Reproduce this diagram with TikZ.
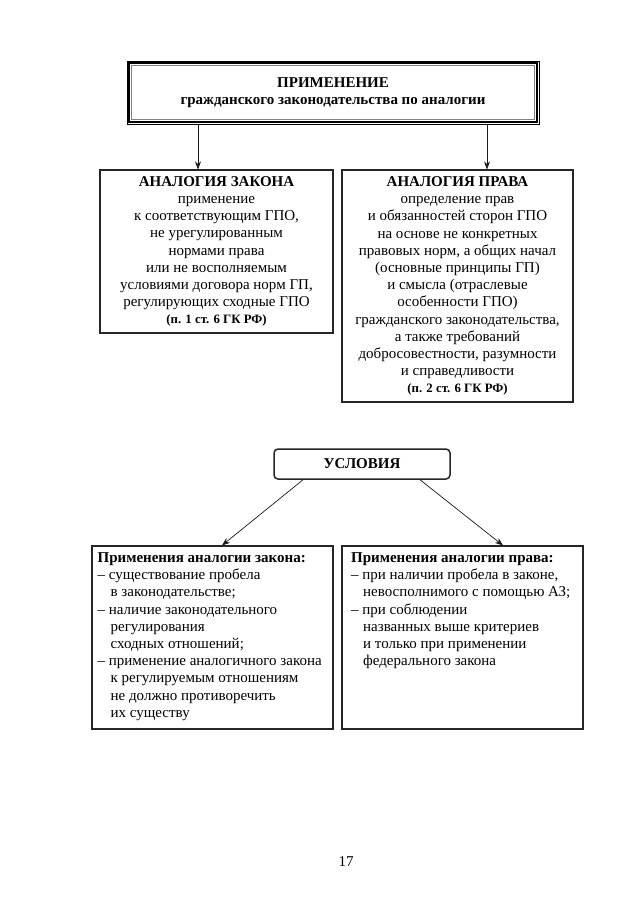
\documentclass[tikz,border=0pt]{standalone}
\usepackage{fontspec}
\setmainfont{Liberation Serif}
\usetikzlibrary{arrows.meta,calc}
\begin{document}
\begin{tikzpicture}[x=1pt,y=-1pt,
  every node/.style={font=\fontsize{15}{17.2}\selectfont, inner sep=0pt},
  box/.style={draw=black!85, line width=1.1pt},
  conn/.style={-{Stealth[length=8pt,width=6pt]}, line width=0.7pt, draw=black!90}]
\useasboundingbox[fill=white] (0,0) rectangle (638,903);

% top box
\node[draw=black, line width=0.8pt, minimum width=412pt, minimum height=63pt, align=center,
      font=\bfseries\fontsize{15}{17.5}\selectfont] (top) at (333,92.5)
  {ПРИМЕНЕНИЕ\\гражданского законодательства по аналогии};
\draw[line width=2pt] ([shift={(2.8,2.8)}]top.north west) rectangle ([shift={(-2.8,-2.8)}]top.south east);
\draw[gray, line width=1.2pt] ([shift={(5,5)}]top.north west) rectangle ([shift={(-5,-5)}]top.south east);

% analogy boxes
\node[box, minimum width=233pt, minimum height=163pt, align=center] (law) at (216.5,251.5)
  {\textbf{АНАЛОГИЯ ЗАКОНА}\\применение\\к соответствующим ГПО,\\не урегулированным\\нормами права\\или не восполняемым\\условиями договора норм ГП,\\регулирующих сходные ГПО\\{\bfseries\fontsize{12.8}{17.2}\selectfont (п. 1 ст. 6 ГК РФ)}};
\node[box, minimum width=231pt, minimum height=232pt, align=center] (rights) at (457.5,286)
  {\textbf{АНАЛОГИЯ ПРАВА}\\определение прав\\и обязанностей сторон ГПО\\на основе не конкретных\\правовых норм, а общих начал\\(основные принципы ГП)\\и смысла (отраслевые\\особенности ГПО)\\гражданского законодательства,\\а также требований\\добросовестности, разумности\\и справедливости\\{\bfseries\fontsize{12.8}{17.2}\selectfont (п. 2 ст. 6 ГК РФ)}};

\coordinate (lawin) at ([xshift=-18.5pt]law.north);
\coordinate (rightsin) at ([xshift=29.5pt]rights.north);
\draw[conn] (lawin |- top.south) -- (lawin);
\draw[conn] (rightsin |- top.south) -- (rightsin);

% conditions
\node[draw=black!85, line width=1.5pt, rounded corners=4pt, minimum width=176pt, minimum height=30pt,
      font=\bfseries\fontsize{15}{17.2}\selectfont] (cond) at (362,464) {УСЛОВИЯ};

\node[box, minimum width=241pt, minimum height=183pt] (bl) at (212.5,637.5) {};
\node[box, minimum width=241pt, minimum height=183pt] (br) at (462.5,637.5) {};

\node[anchor=north west, align=left] (bltext) at ([shift={(6,7)}]bl.north west)
  {\textbf{Применения аналогии закона:}\\
   – существование пробела\\
   \hspace*{13pt}в законодательстве;\\
   – наличие законодательного\\
   \hspace*{13pt}регулирования\\
   \hspace*{13pt}сходных отношений;\\
   – применение аналогичного закона\\
   \hspace*{13pt}к регулируемым отношениям\\
   \hspace*{13pt}не должно противоречить\\
   \hspace*{13pt}их существу};
\node[anchor=north west, align=left] (brtext) at ([shift={(9.5,7)}]br.north west)
  {\textbf{Применения аналогии права:}\\
   – при наличии пробела в законе,\\
   \hspace*{12pt}невосполнимого с помощью АЗ;\\
   – при соблюдении\\
   \hspace*{12pt}названных выше критериев\\
   \hspace*{12pt}и только при применении\\
   \hspace*{12pt}федерального закона};

\coordinate (c1) at ([xshift=-59pt]cond.south);
\coordinate (c2) at ([xshift=58pt]cond.south);
\coordinate (b1) at ([xshift=9.5pt]bl.north);
\coordinate (b2) at ([xshift=40.5pt]br.north);
\draw[conn] (c1) -- (b1);
\draw[conn] (c2) -- (b2);

\node (pg) at (346,862) {17};
\end{tikzpicture}
\end{document}
